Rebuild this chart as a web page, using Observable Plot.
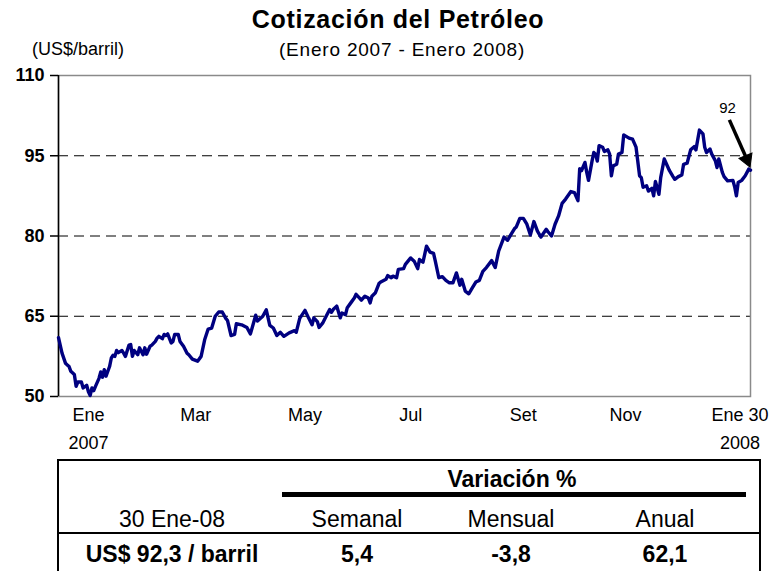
<!DOCTYPE html>
<html>
<head>
<meta charset="utf-8">
<script src="https://cdn.jsdelivr.net/npm/d3@7"></script>
<script src="https://cdn.jsdelivr.net/npm/@observablehq/plot@0.6"></script>
<style>
  html, body { margin: 0; padding: 0; background: #fff; }
  #wrap { position: relative; width: 781px; height: 571px; overflow: hidden; background: #fff;
          font-family: "Liberation Sans", Arial, sans-serif; color: #000; }
  .abs { position: absolute; white-space: nowrap; line-height: 1; }
  #chart { position: absolute; left: 0; top: 0; }
  .c { transform: translateX(-50%); }
</style>
</head>
<body>
<div id="wrap">
  <div id="chart"></div>
  <div class="abs c" id="title" style="left:398px; top:7px; font-size:25px; font-weight:bold; letter-spacing:0.7px;"></div>
  <div class="abs c" id="subtitle" style="left:402px; top:40px; font-size:19px; letter-spacing:0.8px;"></div>
  <div class="abs" id="unit" style="left:32px; top:40px; font-size:18px;"></div>
  <div id="table"></div>
</div>
<script>
// ---------- data ----------
const titleText = "Cotización del Petróleo";
const subtitleText = "(Enero 2007 - Enero 2008)";
const unitText = "(US$/barril)";

const dates = [
"2007-01-02","2007-01-04","2007-01-06","2007-01-07","2007-01-08","2007-01-09","2007-01-11","2007-01-12","2007-01-13","2007-01-15","2007-01-16","2007-01-18","2007-01-19","2007-01-20","2007-01-21","2007-01-22","2007-01-23","2007-01-25","2007-01-26","2007-01-27","2007-01-28","2007-01-29","2007-01-31",
"2007-02-01","2007-02-02","2007-02-03","2007-02-04","2007-02-05","2007-02-07","2007-02-08","2007-02-09","2007-02-11","2007-02-12","2007-02-13","2007-02-14","2007-02-16","2007-02-17","2007-02-19","2007-02-20","2007-02-21","2007-02-23","2007-02-24","2007-02-26","2007-02-27","2007-02-28",
"2007-03-02","2007-03-03","2007-03-04","2007-03-05","2007-03-07","2007-03-08","2007-03-09","2007-03-11","2007-03-12","2007-03-14","2007-03-16","2007-03-17","2007-03-19","2007-03-22","2007-03-24","2007-03-26","2007-03-28","2007-03-30",
"2007-04-01","2007-04-03","2007-04-05","2007-04-07","2007-04-08","2007-04-10","2007-04-12","2007-04-13","2007-04-16","2007-04-19","2007-04-21","2007-04-24","2007-04-25","2007-04-28","2007-04-30",
"2007-05-02","2007-05-04","2007-05-06","2007-05-08","2007-05-10","2007-05-13","2007-05-16","2007-05-17","2007-05-19","2007-05-22","2007-05-24","2007-05-26","2007-05-27","2007-05-29","2007-05-30",
"2007-06-01","2007-06-03","2007-06-05","2007-06-06","2007-06-07","2007-06-09","2007-06-11","2007-06-12","2007-06-14","2007-06-15","2007-06-17","2007-06-19","2007-06-20","2007-06-22","2007-06-23","2007-06-25","2007-06-27","2007-06-28","2007-06-29",
"2007-07-01","2007-07-03","2007-07-04","2007-07-07","2007-07-08","2007-07-10","2007-07-11","2007-07-13","2007-07-14","2007-07-17","2007-07-18","2007-07-21","2007-07-23","2007-07-25","2007-07-26","2007-07-28","2007-07-30",
"2007-08-01","2007-08-03","2007-08-04","2007-08-06","2007-08-08","2007-08-10","2007-08-12","2007-08-14","2007-08-16","2007-08-18","2007-08-19","2007-08-21","2007-08-23","2007-08-25","2007-08-27","2007-08-29","2007-08-31",
"2007-09-02","2007-09-05","2007-09-07","2007-09-09","2007-09-12","2007-09-14","2007-09-16","2007-09-18","2007-09-19","2007-09-21","2007-09-23","2007-09-25","2007-09-27","2007-09-29",
"2007-10-01","2007-10-03","2007-10-06","2007-10-07","2007-10-09","2007-10-11","2007-10-13","2007-10-15","2007-10-17","2007-10-20","2007-10-22","2007-10-24","2007-10-25","2007-10-26","2007-10-28","2007-10-29","2007-10-30",
"2007-11-01","2007-11-02","2007-11-03","2007-11-04","2007-11-05","2007-11-07","2007-11-08","2007-11-10","2007-11-11","2007-11-12","2007-11-13","2007-11-15","2007-11-16","2007-11-18","2007-11-19","2007-11-22","2007-11-24","2007-11-26","2007-11-28","2007-11-29","2007-11-30",
"2007-12-02","2007-12-03","2007-12-05","2007-12-06","2007-12-07","2007-12-09","2007-12-10","2007-12-12","2007-12-15","2007-12-17","2007-12-18","2007-12-20","2007-12-22","2007-12-23","2007-12-25","2007-12-27","2007-12-29","2007-12-30",
"2008-01-01","2008-01-03","2008-01-04","2008-01-05","2008-01-07","2008-01-08","2008-01-10","2008-01-11","2008-01-12","2008-01-14","2008-01-15","2008-01-17","2008-01-20","2008-01-21","2008-01-22","2008-01-23","2008-01-25","2008-01-27","2008-01-29","2008-01-30"
];

const prices = [
61.0,58.1,56.2,55.9,55.6,54.7,54.1,51.9,52.7,52.7,51.6,52.1,50.9,50.2,51.6,51.1,51.9,53.4,54.6,53.6,55.0,53.8,55.6,
57.2,57.7,57.5,58.6,58.2,58.6,58.1,57.5,59.6,59.7,57.5,58.6,57.8,59.1,57.8,59.1,57.9,59.4,59.6,60.3,60.9,61.25,
60.8,61.6,61.4,61.7,60.0,60.3,61.6,61.6,60.3,59.4,58.1,57.8,57.0,56.6,57.5,60.6,62.6,62.8,
65.0,65.8,65.8,64.6,64.2,61.4,61.6,63.6,63.4,62.9,61.7,65.2,64.1,65.0,66.2,
63.3,62.8,61.4,62.0,61.25,61.9,62.3,62.0,64.6,66.1,64.7,63.4,64.7,64.0,62.9,
63.7,65.0,66.25,65.75,66.25,66.9,64.7,65.6,65.3,66.6,67.5,68.4,69.1,68.4,68.0,68.75,68.4,67.5,68.75,
69.4,71.1,71.4,71.9,72.6,72.2,72.5,72.2,73.75,73.9,74.7,75.9,75.3,73.9,75.6,75.1,78.1,
77.0,76.75,75.3,72.2,72.4,71.7,71.25,71.25,73.1,70.8,71.9,69.7,69.2,70.3,71.4,71.7,73.4,
74.1,75.4,74.1,77.2,79.8,79.2,80.3,81.4,81.7,83.3,83.3,82.2,80.2,82.7,
80.9,79.8,81.25,80.8,80.0,82.2,83.75,86.1,86.9,88.3,88.1,86.6,92.6,92.2,93.75,91.9,90.4,
94.0,95.6,95.3,94.0,96.9,96.6,95.8,96.1,95.3,91.25,93.1,93.4,95.3,95.6,98.9,98.3,98.1,96.6,91.25,90.9,89.1,
89.4,88.4,88.9,87.5,90.2,87.8,90.9,94.4,92.2,91.1,90.6,91.1,91.4,93.4,93.6,96.1,96.7,96.1,
99.8,99.1,96.6,95.6,96.25,95.3,94.1,92.8,94.4,91.9,91.1,90.3,90.4,89.2,87.5,90.0,90.4,91.25,92.5,92.3
];

const xDomain = ["2007-01-02", "2008-01-30"];
const xTickDates = ["2007-01-19","2007-03-21","2007-05-22","2007-07-21","2007-09-23","2007-11-20","2008-01-24"];
const xTickLabels = ["Ene\n2007","Mar","May","Jul","Set","Nov","Ene 30\n2008"];
const yDomain = [50, 110];
const yTicks = [50, 65, 80, 95, 110];
const gridValues = [65, 80, 95];

// annotation "92" with arrow to the last point
const noteText = "92";
const noteAt = { date: "2008-01-17", value: 103.8 };
const arrowFrom = { date: "2008-01-18", value: 101.7 };
const arrowTo = { date: "2008-01-29", value: 92.8 };
const arrowHeadAt = { date: "2008-01-28", value: 94.3 };

// summary table
const tableHeading = "Variación %";
const tableDateLabel = "30 Ene-08";
const tableColumns = ["Semanal", "Mensual", "Anual"];
const tablePriceLabel = "US$ 92,3 / barril";
const tableValues = ["5,4", "-3,8", "62,1"];

// ---------- build ----------
const parse = s => new Date(s + "T00:00:00Z");
const series = dates.map((d, i) => ({ date: parse(d), price: prices[i] }));
const tickRows = xTickDates.map((d, i) => ({ date: parse(d), label: xTickLabels[i] }));

document.getElementById("title").textContent = titleText;
document.getElementById("subtitle").textContent = subtitleText;
document.getElementById("unit").textContent = unitText;

const chart = Plot.plot({
  width: 781,
  height: 455,
  marginLeft: 58,
  marginRight: 31,
  marginTop: 75,
  marginBottom: 59,
  style: { fontFamily: "'Liberation Sans', Arial, sans-serif", color: "#000", background: "transparent", overflow: "visible" },
  x: { type: "utc", domain: xDomain.map(parse), axis: null },
  y: { domain: yDomain, axis: null },
  marks: [
    Plot.ruleY(gridValues, { stroke: "#000", strokeWidth: 1, strokeDasharray: "10,6" }),
    Plot.frame({ stroke: "#8a8a8a", strokeWidth: 1.5 }),
    Plot.ruleX([parse(xDomain[0])], { stroke: "#000", strokeWidth: 1.5 }),
    Plot.axisY(yTicks, { tickSize: 8, tickPadding: 6, fontSize: 18, fontWeight: "bold", stroke: "#000", strokeWidth: 1.5, label: null, tickFormat: d => String(d) }),
    Plot.line(series, { x: "date", y: "price", stroke: "#000080", strokeWidth: 3.4, strokeLinejoin: "round", strokeLinecap: "round" }),
    Plot.text(tickRows, { x: "date", text: "label", frameAnchor: "bottom", lineAnchor: "top", dy: 5, lineHeight: 1.55, fontSize: 18, fill: "#000" }),
    Plot.link([{ x1: parse(arrowFrom.date), y1: arrowFrom.value, x2: parse(arrowHeadAt.date), y2: arrowHeadAt.value }],
      { x1: "x1", y1: "y1", x2: "x2", y2: "y2", stroke: "#000", strokeWidth: 3.5 }),
    Plot.dot([{ date: parse(arrowHeadAt.date), value: arrowHeadAt.value }],
      { x: "date", y: "value", symbol: "triangle", r: 5.2, fill: "#000", stroke: "#000", strokeWidth: 1, rotate: 158 }),
    Plot.text([{ date: parse(noteAt.date), value: noteAt.value, t: noteText }], { x: "date", y: "value", text: "t", fontSize: 15, fill: "#000" })
  ]
});
document.getElementById("chart").appendChild(chart);

// table built from the arrays
const table = document.getElementById("table");
function add(txt, style) {
  const el = document.createElement("div");
  el.className = "abs";
  el.textContent = txt;
  el.setAttribute("style", style);
  table.appendChild(el);
  return el;
}
function box(style) {
  const el = document.createElement("div");
  el.setAttribute("style", "position:absolute;" + style);
  table.appendChild(el);
}
box("left:57px; top:459px; width:700px; height:130px; border:2px solid #000;");
box("left:282px; top:492px; width:464px; height:5px; background:#000;");
box("left:57px; top:532px; width:703px; height:2px; background:#000;");
const colX = [172, 357, 511, 665];
add(tableHeading, "left:512px; top:468px; font-size:23px; font-weight:bold; transform:translateX(-50%);");
add(tableDateLabel, "left:" + colX[0] + "px; top:508px; font-size:23px; transform:translateX(-50%);");
tableColumns.forEach((t, i) => add(t, "left:" + colX[i + 1] + "px; top:508px; font-size:23px; transform:translateX(-50%);"));
add(tablePriceLabel, "left:" + colX[0] + "px; top:543px; font-size:23px; font-weight:bold; transform:translateX(-50%);");
tableValues.forEach((t, i) => add(t, "left:" + colX[i + 1] + "px; top:543px; font-size:23px; font-weight:bold; transform:translateX(-50%);"));
</script>
</body>
</html>
